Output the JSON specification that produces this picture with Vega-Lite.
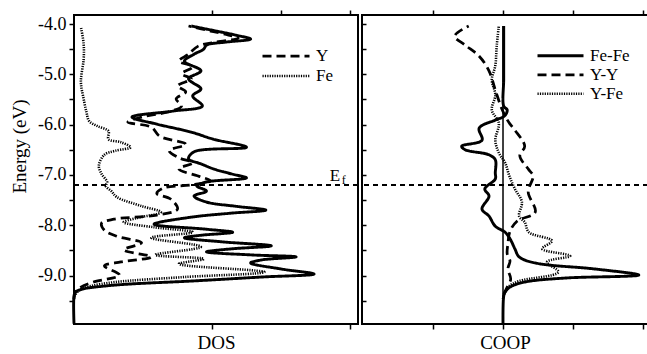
{
  "$schema": "https://vega.github.io/schema/vega-lite/v6.json",
  "padding": {"left": 9, "top": 8, "right": 3, "bottom": 0},
  "spacing": 0,
  "config": {
    "view": {"stroke": "black", "strokeWidth": 2},
    "font": "Liberation Serif",
    "axis": {"labelFont": "Liberation Serif", "titleFont": "Liberation Serif", "labelFontSize": 18, "titleFontSize": 19, "titleFontWeight": "normal", "labelColor": "black", "titleColor": "black", "tickColor": "black", "tickWidth": 1.5, "domain": false, "grid": false},
    "legend": {"labelFont": "Liberation Serif", "labelFontSize": 17, "labelColor": "black", "padding": 0}
  },
  "datasets": {
    "dos": [
      {"s":"Total","e":-4.04,"v":0.85},{"s":"Total","e":-4.14,"v":1.03},{"s":"Total","e":-4.22,"v":1.17},{"s":"Total","e":-4.30,"v":1.28},{"s":"Total","e":-4.36,"v":1.10},{"s":"Total","e":-4.42,"v":0.96},{"s":"Total","e":-4.50,"v":0.94},{"s":"Total","e":-4.60,"v":0.87},{"s":"Total","e":-4.74,"v":0.80},{"s":"Total","e":-4.93,"v":0.92},{"s":"Total","e":-5.09,"v":0.83},{"s":"Total","e":-5.29,"v":0.92},{"s":"Total","e":-5.43,"v":0.86},{"s":"Total","e":-5.63,"v":0.93},{"s":"Total","e":-5.73,"v":0.72},{"s":"Total","e":-5.85,"v":0.42},{"s":"Total","e":-5.99,"v":0.60},{"s":"Total","e":-6.15,"v":0.85},{"s":"Total","e":-6.29,"v":1.01},{"s":"Total","e":-6.45,"v":1.25},{"s":"Total","e":-6.54,"v":0.87},{"s":"Total","e":-6.68,"v":0.83},{"s":"Total","e":-6.78,"v":0.92},{"s":"Total","e":-6.88,"v":1.01},{"s":"Total","e":-6.98,"v":1.14},{"s":"Total","e":-7.06,"v":1.25},{"s":"Total","e":-7.14,"v":0.96},{"s":"Total","e":-7.22,"v":0.89},{"s":"Total","e":-7.32,"v":0.96},{"s":"Total","e":-7.42,"v":0.87},{"s":"Total","e":-7.54,"v":0.96},{"s":"Total","e":-7.62,"v":1.16},{"s":"Total","e":-7.70,"v":1.39},{"s":"Total","e":-7.76,"v":1.14},{"s":"Total","e":-7.84,"v":0.85},{"s":"Total","e":-7.98,"v":0.58},{"s":"Total","e":-8.08,"v":0.96},{"s":"Total","e":-8.14,"v":1.15},{"s":"Total","e":-8.20,"v":0.92},{"s":"Total","e":-8.25,"v":0.80},{"s":"Total","e":-8.33,"v":1.07},{"s":"Total","e":-8.41,"v":1.43},{"s":"Total","e":-8.47,"v":1.14},{"s":"Total","e":-8.53,"v":0.96},{"s":"Total","e":-8.59,"v":1.28},{"s":"Total","e":-8.63,"v":1.61},{"s":"Total","e":-8.69,"v":1.36},{"s":"Total","e":-8.75,"v":1.28},{"s":"Total","e":-8.87,"v":1.50},{"s":"Total","e":-8.97,"v":1.74},{"s":"Total","e":-9.03,"v":1.36},{"s":"Total","e":-9.11,"v":0.85},{"s":"Total","e":-9.17,"v":0.40},{"s":"Total","e":-9.21,"v":0.22},{"s":"Total","e":-9.27,"v":0.06},{"s":"Total","e":-9.33,"v":0.01},{"s":"Total","e":-9.41,"v":0},{"s":"Total","e":-9.96,"v":0},
      {"s":"Y","e":-4.04,"v":0.83},{"s":"Y","e":-4.14,"v":0.99},{"s":"Y","e":-4.22,"v":1.12},{"s":"Y","e":-4.28,"v":1.19},{"s":"Y","e":-4.36,"v":1.03},{"s":"Y","e":-4.44,"v":0.90},{"s":"Y","e":-4.60,"v":0.83},{"s":"Y","e":-4.74,"v":0.76},{"s":"Y","e":-4.85,"v":0.86},{"s":"Y","e":-4.99,"v":0.78},{"s":"Y","e":-5.09,"v":0.85},{"s":"Y","e":-5.23,"v":0.75},{"s":"Y","e":-5.35,"v":0.81},{"s":"Y","e":-5.49,"v":0.74},{"s":"Y","e":-5.63,"v":0.78},{"s":"Y","e":-5.75,"v":0.68},{"s":"Y","e":-5.85,"v":0.49},{"s":"Y","e":-5.95,"v":0.39},{"s":"Y","e":-6.05,"v":0.56},{"s":"Y","e":-6.23,"v":0.62},{"s":"Y","e":-6.39,"v":0.81},{"s":"Y","e":-6.52,"v":0.69},{"s":"Y","e":-6.66,"v":0.76},{"s":"Y","e":-6.76,"v":0.86},{"s":"Y","e":-6.88,"v":0.76},{"s":"Y","e":-7.04,"v":0.92},{"s":"Y","e":-7.12,"v":0.99},{"s":"Y","e":-7.20,"v":0.85},{"s":"Y","e":-7.26,"v":0.65},{"s":"Y","e":-7.37,"v":0.60},{"s":"Y","e":-7.48,"v":0.70},{"s":"Y","e":-7.68,"v":0.75},{"s":"Y","e":-7.80,"v":0.60},{"s":"Y","e":-7.88,"v":0.29},{"s":"Y","e":-7.96,"v":0.20},{"s":"Y","e":-8.10,"v":0.22},{"s":"Y","e":-8.22,"v":0.31},{"s":"Y","e":-8.35,"v":0.49},{"s":"Y","e":-8.49,"v":0.36},{"s":"Y","e":-8.63,"v":0.56},{"s":"Y","e":-8.73,"v":0.34},{"s":"Y","e":-8.81,"v":0.22},{"s":"Y","e":-8.99,"v":0.33},{"s":"Y","e":-9.13,"v":0.14},{"s":"Y","e":-9.23,"v":0.05},{"s":"Y","e":-9.33,"v":0.01},{"s":"Y","e":-9.47,"v":0},
      {"s":"Fe","e":-4.06,"v":0.05},{"s":"Fe","e":-4.40,"v":0.07},{"s":"Fe","e":-4.70,"v":0.07},{"s":"Fe","e":-5.15,"v":0.05},{"s":"Fe","e":-5.49,"v":0.07},{"s":"Fe","e":-5.75,"v":0.09},{"s":"Fe","e":-5.93,"v":0.11},{"s":"Fe","e":-6.03,"v":0.17},{"s":"Fe","e":-6.13,"v":0.25},{"s":"Fe","e":-6.29,"v":0.25},{"s":"Fe","e":-6.35,"v":0.34},{"s":"Fe","e":-6.45,"v":0.41},{"s":"Fe","e":-6.52,"v":0.30},{"s":"Fe","e":-6.60,"v":0.22},{"s":"Fe","e":-6.82,"v":0.18},{"s":"Fe","e":-6.98,"v":0.20},{"s":"Fe","e":-7.14,"v":0.24},{"s":"Fe","e":-7.22,"v":0.23},{"s":"Fe","e":-7.32,"v":0.27},{"s":"Fe","e":-7.44,"v":0.31},{"s":"Fe","e":-7.62,"v":0.49},{"s":"Fe","e":-7.74,"v":0.63},{"s":"Fe","e":-7.86,"v":0.45},{"s":"Fe","e":-7.94,"v":0.36},{"s":"Fe","e":-8.04,"v":0.58},{"s":"Fe","e":-8.14,"v":0.86},{"s":"Fe","e":-8.25,"v":0.56},{"s":"Fe","e":-8.43,"v":0.92},{"s":"Fe","e":-8.59,"v":0.59},{"s":"Fe","e":-8.67,"v":0.94},{"s":"Fe","e":-8.77,"v":0.76},{"s":"Fe","e":-8.93,"v":1.38},{"s":"Fe","e":-9.03,"v":0.80},{"s":"Fe","e":-9.13,"v":0.30},{"s":"Fe","e":-9.21,"v":0.12},{"s":"Fe","e":-9.29,"v":0.04},{"s":"Fe","e":-9.41,"v":0}
    ],
    "coop": [
      {"s":"Fe-Fe","e":-4.04,"v":0.01},{"s":"Fe-Fe","e":-4.44,"v":0.01},{"s":"Fe-Fe","e":-5.09,"v":0.01},{"s":"Fe-Fe","e":-5.63,"v":0.01},{"s":"Fe-Fe","e":-5.71,"v":0.06},{"s":"Fe-Fe","e":-5.83,"v":0.02},{"s":"Fe-Fe","e":-5.91,"v":-0.11},{"s":"Fe-Fe","e":-6.07,"v":-0.34},{"s":"Fe-Fe","e":-6.31,"v":-0.30},{"s":"Fe-Fe","e":-6.43,"v":-0.59},{"s":"Fe-Fe","e":-6.50,"v":-0.54},{"s":"Fe-Fe","e":-6.60,"v":-0.20},{"s":"Fe-Fe","e":-6.70,"v":-0.11},{"s":"Fe-Fe","e":-6.96,"v":-0.11},{"s":"Fe-Fe","e":-7.08,"v":-0.11},{"s":"Fe-Fe","e":-7.28,"v":-0.26},{"s":"Fe-Fe","e":-7.42,"v":-0.20},{"s":"Fe-Fe","e":-7.68,"v":-0.30},{"s":"Fe-Fe","e":-7.82,"v":-0.20},{"s":"Fe-Fe","e":-8.02,"v":-0.11},{"s":"Fe-Fe","e":-8.14,"v":0.03},{"s":"Fe-Fe","e":-8.27,"v":0.10},{"s":"Fe-Fe","e":-8.47,"v":0.17},{"s":"Fe-Fe","e":-8.63,"v":0.23},{"s":"Fe-Fe","e":-8.75,"v":0.46},{"s":"Fe-Fe","e":-8.87,"v":1.31},{"s":"Fe-Fe","e":-8.99,"v":1.94},{"s":"Fe-Fe","e":-9.05,"v":0.89},{"s":"Fe-Fe","e":-9.13,"v":0.31},{"s":"Fe-Fe","e":-9.23,"v":0.10},{"s":"Fe-Fe","e":-9.33,"v":0.03},{"s":"Fe-Fe","e":-9.41,"v":0.01},{"s":"Fe-Fe","e":-9.96,"v":0},
      {"s":"Y-Y","e":-4.04,"v":-0.49},{"s":"Y-Y","e":-4.24,"v":-0.69},{"s":"Y-Y","e":-4.42,"v":-0.54},{"s":"Y-Y","e":-4.64,"v":-0.34},{"s":"Y-Y","e":-4.93,"v":-0.20},{"s":"Y-Y","e":-5.31,"v":-0.11},{"s":"Y-Y","e":-5.71,"v":-0.01},{"s":"Y-Y","e":-5.97,"v":0.09},{"s":"Y-Y","e":-6.11,"v":0.17},{"s":"Y-Y","e":-6.43,"v":0.31},{"s":"Y-Y","e":-6.62,"v":0.24},{"s":"Y-Y","e":-6.90,"v":0.37},{"s":"Y-Y","e":-7.02,"v":0.43},{"s":"Y-Y","e":-7.34,"v":0.36},{"s":"Y-Y","e":-7.74,"v":0.46},{"s":"Y-Y","e":-7.92,"v":0.20},{"s":"Y-Y","e":-8.12,"v":0.10},{"s":"Y-Y","e":-8.37,"v":0.07},{"s":"Y-Y","e":-8.57,"v":0.06},{"s":"Y-Y","e":-8.71,"v":0.10},{"s":"Y-Y","e":-8.87,"v":0.07},{"s":"Y-Y","e":-9.07,"v":0.11},{"s":"Y-Y","e":-9.23,"v":0.06},{"s":"Y-Y","e":-9.37,"v":0.01},
      {"s":"Y-Fe","e":-4.04,"v":-0.06},{"s":"Y-Fe","e":-4.44,"v":-0.09},{"s":"Y-Fe","e":-4.83,"v":-0.11},{"s":"Y-Fe","e":-5.11,"v":-0.16},{"s":"Y-Fe","e":-5.41,"v":-0.11},{"s":"Y-Fe","e":-5.71,"v":-0.16},{"s":"Y-Fe","e":-5.97,"v":-0.06},{"s":"Y-Fe","e":-6.31,"v":-0.11},{"s":"Y-Fe","e":-6.56,"v":-0.06},{"s":"Y-Fe","e":-6.76,"v":0.03},{"s":"Y-Fe","e":-7.02,"v":0.09},{"s":"Y-Fe","e":-7.28,"v":0.17},{"s":"Y-Fe","e":-7.54,"v":0.27},{"s":"Y-Fe","e":-7.82,"v":0.23},{"s":"Y-Fe","e":-7.94,"v":0.31},{"s":"Y-Fe","e":-8.14,"v":0.37},{"s":"Y-Fe","e":-8.31,"v":0.70},{"s":"Y-Fe","e":-8.47,"v":0.56},{"s":"Y-Fe","e":-8.61,"v":0.96},{"s":"Y-Fe","e":-8.73,"v":0.63},{"s":"Y-Fe","e":-8.93,"v":0.79},{"s":"Y-Fe","e":-9.11,"v":0.23},{"s":"Y-Fe","e":-9.21,"v":0.09},{"s":"Y-Fe","e":-9.33,"v":0.03},{"s":"Y-Fe","e":-9.47,"v":0}
    ]
  },
  "hconcat": [
    {
      "width": 284,
      "height": 309,
      "layer": [
        {
          "data": {"name": "dos"},
          "mark": {"type": "line", "color": "black", "interpolate": "catmull-rom"},
          "encoding": {
            "x": {"field": "v", "type": "quantitative", "scale": {"domain": [0, 2.058], "nice": false, "zero": false},
                  "axis": {"orient": "bottom", "values": [1, 2], "labels": false, "title": "DOS", "tickSize": 5, "titlePadding": 4}},
            "y": {"field": "e", "type": "quantitative", "scale": {"domain": [-9.964, -3.821], "nice": false, "zero": false},
                  "axis": {"orient": "left", "values": [-4, -4.5, -5, -5.5, -6, -6.5, -7, -7.5, -8, -8.5, -9, -9.5], "labelExpr": "datum.value % 1 === 0 ? toString(datum.value) + '.0' : ''", "title": "Energy (eV)", "tickSize": 5, "labelPadding": 3, "titlePadding": 7, "minExtent": 38, "maxExtent": 38, "titleY": 131}},
            "strokeDash": {"field": "s", "type": "nominal", "scale": {"domain": ["Total", "Y", "Fe"], "range": [[1, 0], [9, 5], [1.2, 1.2]]},
                  "legend": {"values": ["Y", "Fe"], "orient": "none", "legendX": 187, "legendY": 31, "title": null, "symbolType": "stroke", "symbolSize": 2209, "symbolStrokeWidth": 2.6, "symbolStrokeColor": "black", "labelOffset": 5, "clipHeight": 20, "rowPadding": 0}},
            "strokeWidth": {"field": "s", "type": "nominal", "scale": {"domain": ["Total", "Y", "Fe"], "range": [2.9, 2.6, 3.4]}, "legend": null},
            "order": {"field": "e", "type": "quantitative"}
          }
        },
        {
          "data": {"values": [{"e": -7.2}]},
          "mark": {"type": "rule", "strokeDash": [5, 4], "strokeWidth": 2, "color": "black"},
          "encoding": {"y": {"field": "e", "type": "quantitative", "axis": null}}
        },
        {
          "data": {"values": [{"t": "E", "v": 1.89, "e": -7.03}]},
          "mark": {"type": "text", "fontSize": 17, "font": "Liberation Serif", "color": "black"},
          "encoding": {
            "x": {"field": "v", "type": "quantitative", "axis": {"orient": "top", "values": [1, 1.5, 2], "labels": false, "title": null, "tickSize": 5}},
            "y": {"field": "e", "type": "quantitative", "axis": null},
            "text": {"field": "t"}
          }
        },
        {
          "data": {"values": [{"t": "f", "v": 1.955, "e": -7.11}]},
          "mark": {"type": "text", "fontSize": 12, "font": "Liberation Serif", "color": "black"},
          "encoding": {
            "x": {"field": "v", "type": "quantitative", "axis": null},
            "y": {"field": "e", "type": "quantitative", "axis": null},
            "text": {"field": "t"}
          }
        }
      ],
      "resolve": {"axis": {"x": "independent", "y": "independent"}}
    },
    {
      "width": 286,
      "height": 309,
      "layer": [
        {
          "data": {"name": "coop"},
          "mark": {"type": "line", "color": "black", "interpolate": "catmull-rom"},
          "encoding": {
            "x": {"field": "v", "type": "quantitative", "scale": {"domain": [-2.014, 2.071], "nice": false, "zero": false},
                  "axis": {"orient": "bottom", "values": [-1, 0, 1, 2], "labels": false, "title": "COOP", "tickSize": 5, "titlePadding": 4}},
            "y": {"field": "e", "type": "quantitative", "scale": {"domain": [-9.964, -3.821], "nice": false, "zero": false},
                  "axis": {"orient": "left", "values": [-4, -4.5, -5, -5.5, -6, -6.5, -7, -7.5, -8, -8.5, -9, -9.5], "labels": false, "title": null, "tickSize": -4}},
            "strokeDash": {"field": "s", "type": "nominal", "scale": {"domain": ["Fe-Fe", "Y-Y", "Y-Fe"], "range": [[1, 0], [9, 5], [1.2, 1.2]]},
                  "legend": {"orient": "none", "legendX": 174, "legendY": 32, "title": null, "symbolType": "stroke", "symbolSize": 2116, "symbolStrokeWidth": 2.6, "symbolStrokeColor": "black", "labelOffset": 5, "clipHeight": 17.5, "rowPadding": 0}},
            "strokeWidth": {"field": "s", "type": "nominal", "scale": {"domain": ["Fe-Fe", "Y-Y", "Y-Fe"], "range": [2.9, 2.6, 3.4]}, "legend": null},
            "order": {"field": "e", "type": "quantitative"}
          }
        },
        {
          "data": {"values": [{"e": -7.2}]},
          "mark": {"type": "rule", "strokeDash": [5, 4], "strokeWidth": 2, "color": "black"},
          "encoding": {"y": {"field": "e", "type": "quantitative", "axis": null}}
        },
        {
          "data": {"values": [{"v": 0, "e": -4.04, "e2": -9.964}]},
          "mark": {"type": "rule", "strokeWidth": 1.5, "color": "black"},
          "encoding": {
            "x": {"field": "v", "type": "quantitative", "axis": {"orient": "top", "values": [-1, 0, 1, 2], "labels": false, "title": null, "tickSize": 5}},
            "y": {"field": "e", "type": "quantitative", "axis": null},
            "y2": {"field": "e2"}
          }
        }
      ],
      "resolve": {"axis": {"x": "independent", "y": "independent"}}
    }
  ],
  "resolve": {"scale": {"strokeDash": "independent", "x": "independent", "strokeWidth": "independent"}, "legend": {"strokeDash": "independent"}}
}
